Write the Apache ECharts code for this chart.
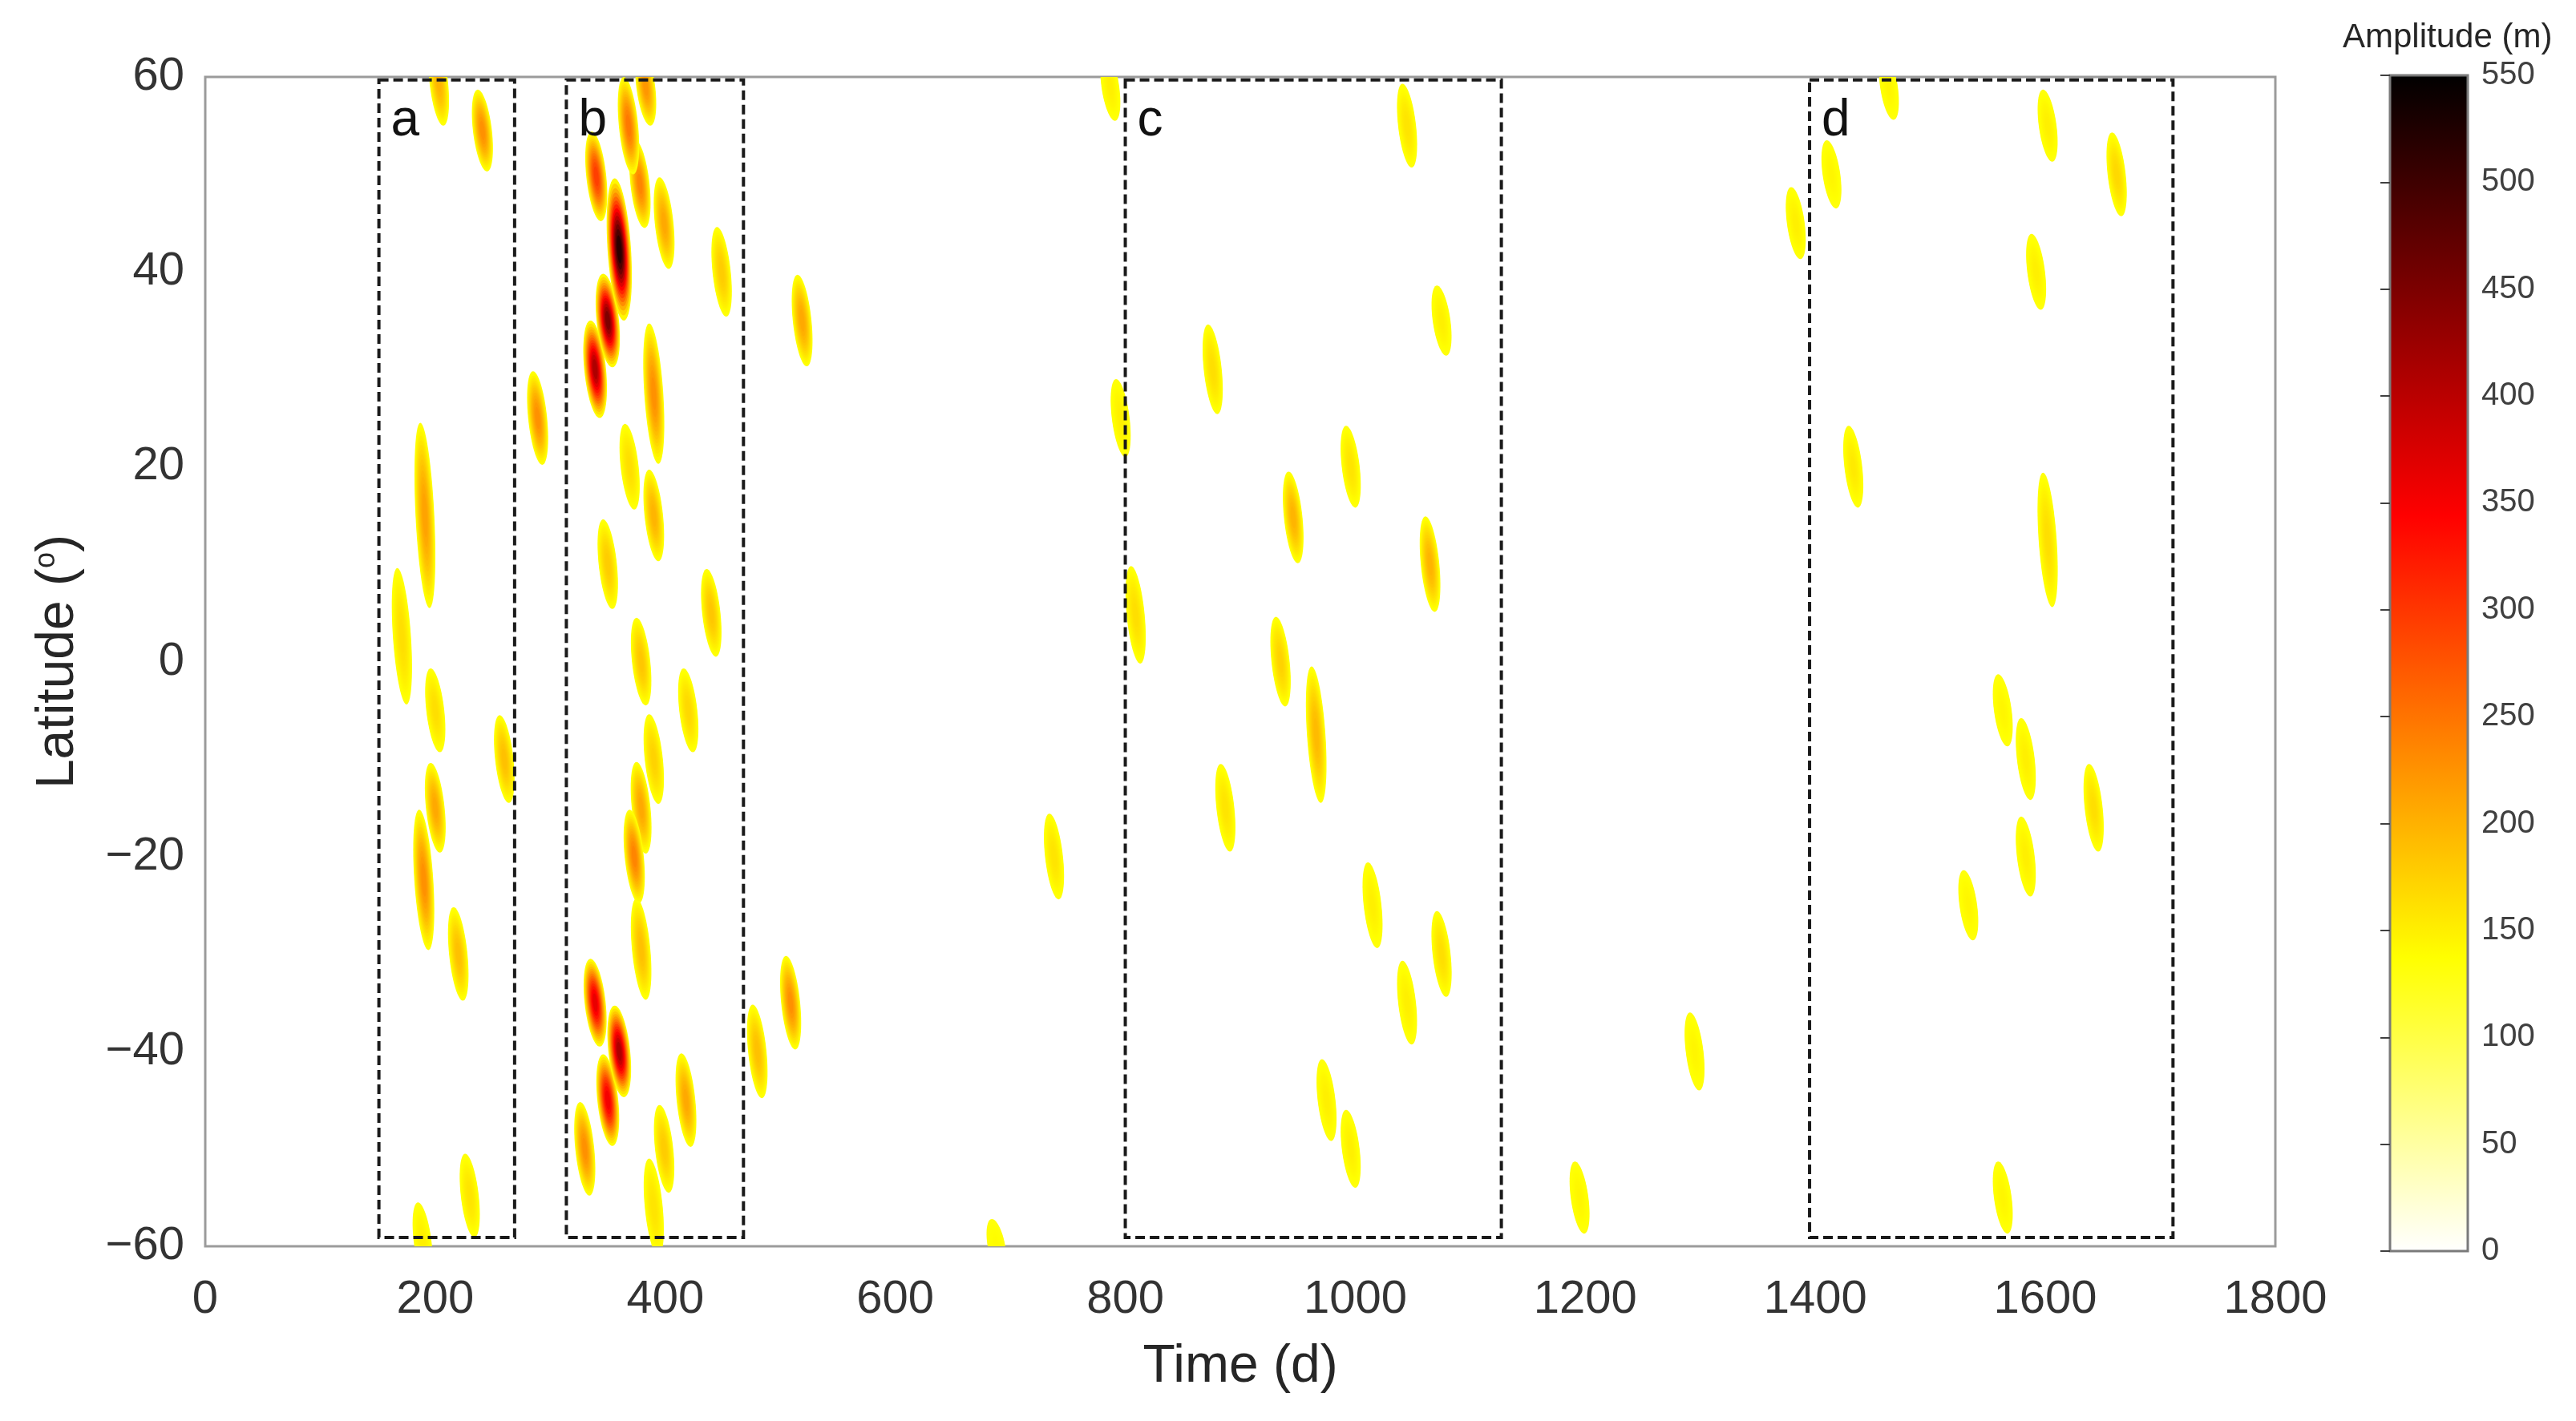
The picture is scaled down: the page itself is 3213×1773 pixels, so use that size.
<!DOCTYPE html>
<html>
<head>
<meta charset="utf-8">
<title>Amplitude by time and latitude</title>
<script src="https://cdn.jsdelivr.net/npm/echarts@6/dist/echarts.min.js"></script>
<style>
    html, body { margin: 0; padding: 0; background: #ffffff; }
    #chart { width: 3213px; height: 1773px; }
</style>
</head>
<body>
<div id="chart"></div>
<script>
'use strict';

// one entry per eddy blob: centre time (d), centre latitude, half length (deg), peak amplitude (m)
var blobTime = [
    203, 241, 191, 171, 200, 260, 200, 190, 220, 230, 189,
    289,
    368, 378, 383, 340, 360, 350, 339, 399, 449, 390, 369, 390, 350, 440, 379,
    420, 390, 379, 373, 379, 339, 360, 350, 330, 399, 418, 390,
    480, 509, 519, 688, 738, 787,
    796, 809, 876, 887, 935, 946, 966, 975, 996, 996, 1015, 1045, 1045, 1065, 1075, 1075,
    1195, 1295, 1383,
    1414, 1433, 1464, 1533, 1563, 1563, 1583, 1583, 1592, 1602, 1602, 1642, 1662
];
var blobLat = [
    59.5, 54.5, 15, 2.6, -5, -10, -15, -22.4, -30, -54.8, -59.5,
    25,
    55, 49, 59, 49.8, 42.3, 35, 30, 45, 40, 27.5, 20, 15, 10, 5, 0,
    -5, -10, -15, -20, -29.5, -35, -40, -45, -50, -50, -45, -56,
    -40, -35, 35, -60, -20, 59,
    25, 4.8, 30, -15, 0, 14.8, -7.5, -45, 20, -50, -25, 55, -35, 10, 35, -30,
    -55, -40, 45,
    50, 20, 59, -25, -5, -55, -10, -20, 40, 55, 12.5, -15, 50
];
var blobHalfLen = [
    4.5, 4.2, 9.5, 7, 4.3, 4.5, 4.6, 7.2, 4.8, 4.3, 4,
    4.8,
    5, 4.5, 4, 4.6, 7.3, 4.8, 5, 4.7, 4.6, 7.2, 4.4, 4.7, 4.6, 4.5, 4.5,
    4.3, 4.6, 4.7, 4.8, 5.2, 4.5, 4.7, 4.7, 4.8, 4.5, 4.8, 5,
    4.8, 4.8, 4.7, 2.8, 4.4, 3.5,
    4, 5, 4.6, 4.5, 4.6, 4.7, 7, 4.2, 4.2, 4, 4.4, 4.3, 4.3, 4.9, 3.6, 4.4,
    3.7, 4, 3.7,
    3.5, 4.2, 3.4, 3.6, 3.7, 3.7, 4.2, 4.1, 3.9, 3.7, 6.9, 4.5, 4.3
];
var blobPeak = [
    200, 230, 215, 165, 165, 190, 210, 230, 190, 160, 150,
    230,
    250, 240, 225, 300, 530, 460, 420, 210, 180, 230, 165, 200, 180, 185, 185,
    170, 175, 210, 240, 190, 370, 420, 360, 230, 180, 210, 160,
    190, 230, 210, 140, 160, 150,
    150, 165, 165, 160, 175, 200, 195, 150, 160, 150, 150, 160, 150, 200, 150, 165,
    145, 145, 150,
    145, 155, 145, 145, 145, 145, 150, 150, 150, 150, 165, 165, 170
];

// dashed boxes marking the four periods
var boxNames = ['a', 'b', 'c', 'd'];
var boxStart = [151, 314, 800, 1395];
var boxEnd = [269, 468, 1127, 1711];
var boxBottom = -59.1;
var boxTop = 59.7;

// reversed "hot" colormap, evenly spaced from 0 to ampMax
var ampColors = ['#ffffff', '#ffff80', '#ffff00', '#ffaa00', '#ff5500',
    '#ff0000', '#aa0000', '#550000', '#000000'];
var ampMax = 550;
var ampEdge = 130;      // below this the field is left white
var blobShift = 4;      // days of drift from blob centre to its ends
var fontName = 'Liberation Sans, Arial, sans-serif';

function hexToRgb(h) {
    return [parseInt(h.substr(1, 2), 16), parseInt(h.substr(3, 2), 16), parseInt(h.substr(5, 2), 16)];
}

function ampColor(v) {
    var f = Math.max(0, Math.min(1, v / ampMax)) * (ampColors.length - 1);
    var i = Math.min(Math.floor(f), ampColors.length - 2);
    var r = f - i;
    var a = hexToRgb(ampColors[i]);
    var b = hexToRgb(ampColors[i + 1]);
    return 'rgb(' + Math.round(a[0] + (b[0] - a[0]) * r) + ',' +
        Math.round(a[1] + (b[1] - a[1]) * r) + ',' +
        Math.round(a[2] + (b[2] - a[2]) * r) + ')';
}

var blobData = blobTime.map(function(t, i) {
    return [t, blobLat[i], blobHalfLen[i], blobPeak[i]];
});
blobData.sort(function(p, q) { return p[3] - q[3]; });

var boxData = boxNames.map(function(name, i) {
    return [boxStart[i], boxEnd[i]];
});

function renderBlob(params, api) {
    var t0 = api.value(0);
    var lat0 = api.value(1);
    var halfLen = api.value(2);
    var peak = api.value(3);
    if (peak <= ampEdge) {
        return null;
    }
    var halfWidth = 7.6 + 2.6 * (peak - ampEdge) / 400;
    var nLev = 14;
    var nPts = 56;
    var children = [];
    for (var i = 0; i < nLev; i++) {
        var c = ampEdge + (peak - ampEdge) * i / nLev;
        var s = Math.sqrt(Math.log(peak / c) / Math.log(peak / ampEdge));
        var pts = [];
        for (var j = 0; j < nPts; j++) {
            var ang = j / nPts * 2 * Math.PI;
            var u = Math.cos(ang) * s;
            var v = Math.sin(ang) * s;
            pts.push(api.coord([t0 - blobShift * u + halfWidth * v, lat0 + halfLen * u]));
        }
        children.push({
            type: 'polygon',
            shape: { points: pts },
            style: { fill: ampColor(c + (peak - ampEdge) / nLev * 0.5) }
        });
    }
    return { type: 'group', children: children };
}

function renderBox(params, api) {
    var p0 = api.coord([api.value(0), boxTop]);
    var p1 = api.coord([api.value(1), boxBottom]);
    return {
        type: 'group',
        children: [{
            type: 'rect',
            shape: { x: p0[0], y: p0[1], width: p1[0] - p0[0], height: p1[1] - p0[1] },
            style: { fill: 'none', stroke: '#1a1a1a', lineWidth: 4, lineDash: [12, 6] }
        }, {
            type: 'text',
            x: p0[0] + 15,
            y: p0[1] + 20,
            style: {
                text: boxNames[params.dataIndex],
                fontSize: 64,
                fontFamily: fontName,
                fill: '#111111',
                verticalAlign: 'top'
            }
        }]
    };
}

function renderColorBar(params, api) {
    var top = api.coord([0, ampMax]);
    var bottom = api.coord([1, 0]);
    var stops = ampColors.map(function(col, i) {
        return { offset: i / (ampColors.length - 1), color: ampColors[ampColors.length - 1 - i] };
    });
    return {
        type: 'rect',
        shape: { x: top[0], y: top[1], width: bottom[0] - top[0], height: bottom[1] - top[1] },
        style: {
            fill: new echarts.graphic.LinearGradient(0, 0, 0, 1, stops),
            stroke: '#7a7a7a',
            lineWidth: 3
        }
    };
}

var chart = echarts.init(document.getElementById('chart'));

var options = {
    backgroundColor: '#ffffff',
    animation: false,
    title: {
        text: 'Amplitude (m)',
        left: 2922,
        top: 26,
        padding: 0,
        textStyle: { fontSize: 42, fontWeight: 'normal', color: '#262626', fontFamily: fontName }
    },
    grid: [{
        left: 256,
        right: 375,
        top: 96,
        bottom: 218,
        show: true,
        borderColor: '#9b9b9b',
        borderWidth: 3,
        backgroundColor: '#ffffff'
    }, {
        left: 2981,
        width: 97,
        top: 94,
        height: 1467
    }],
    xAxis: [{
        type: 'value',
        gridIndex: 0,
        min: 0,
        max: 1800,
        interval: 200,
        name: 'Time (d)',
        nameLocation: 'middle',
        nameGap: 118,
        nameTextStyle: { fontSize: 66, color: '#262626', fontFamily: fontName },
        axisLine: { show: false },
        axisTick: { show: false },
        splitLine: { show: false },
        axisLabel: {
            fontSize: 58,
            color: '#333333',
            margin: 38,
            fontFamily: fontName,
            formatter: function(v) {
                return String(v);
            }
        }
    }, {
        type: 'value',
        gridIndex: 1,
        min: 0,
        max: 1,
        show: false
    }],
    yAxis: [{
        type: 'value',
        gridIndex: 0,
        min: -60,
        max: 60,
        interval: 20,
        name: 'Latitude ({sup|o})',
        nameLocation: 'middle',
        nameGap: 150,
        nameTextStyle: {
            fontSize: 66,
            color: '#262626',
            fontFamily: fontName,
            rich: {
                sup: { fontSize: 36, color: '#262626', fontFamily: fontName, verticalAlign: 'top', lineHeight: 66 }
            }
        },
        axisLine: { show: false },
        axisTick: { show: false },
        splitLine: { show: false },
        axisLabel: {
            fontSize: 58,
            color: '#333333',
            margin: 26,
            fontFamily: fontName,
            formatter: function(v) {
                return v < 0 ? '\u2212' + (-v) : String(v);
            }
        }
    }, {
        type: 'value',
        gridIndex: 1,
        min: 0,
        max: ampMax,
        interval: 50,
        position: 'right',
        z: 10,
        axisLine: { show: false },
        axisTick: { show: true, inside: true, length: 12, lineStyle: { color: '#404040', width: 2 } },
        splitLine: { show: false },
        axisLabel: { fontSize: 40, color: '#404040', margin: 17, fontFamily: fontName }
    }],
    series: [{
        name: 'amplitude',
        type: 'custom',
        xAxisIndex: 0,
        yAxisIndex: 0,
        silent: true,
        clip: true,
        z: 2,
        renderItem: renderBlob,
        encode: { x: 0, y: 1 },
        data: blobData
    }, {
        name: 'periods',
        type: 'custom',
        xAxisIndex: 0,
        yAxisIndex: 0,
        silent: true,
        z: 5,
        renderItem: renderBox,
        encode: { x: [0, 1] },
        data: boxData
    }, {
        name: 'colorbar',
        type: 'custom',
        xAxisIndex: 1,
        yAxisIndex: 1,
        silent: true,
        z: 2,
        renderItem: renderColorBar,
        data: [[0, 0]]
    }]
};
chart.setOption(options);
</script>
</body>
</html>
